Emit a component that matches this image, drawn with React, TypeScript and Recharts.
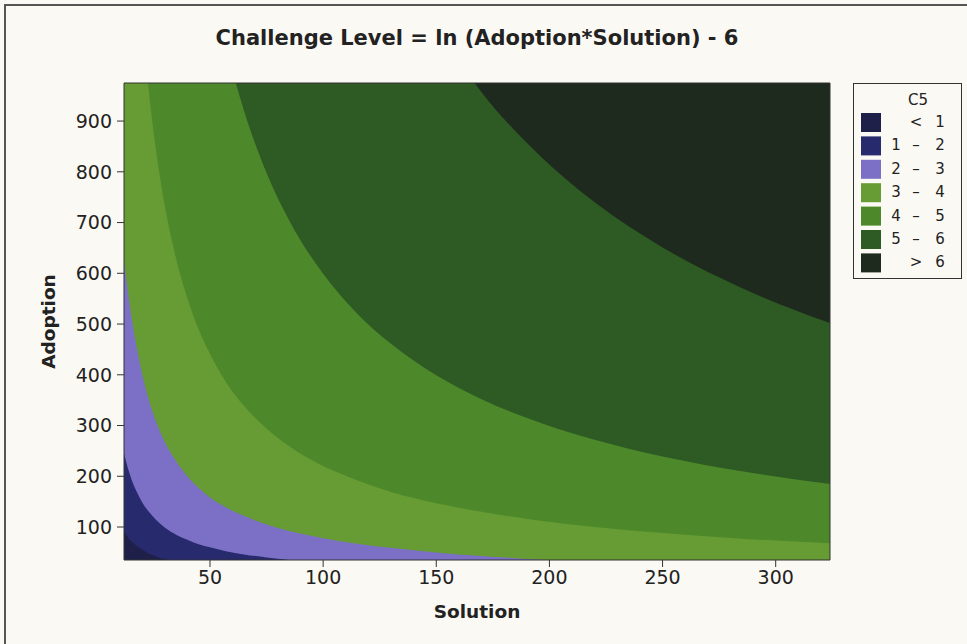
import { Area, CartesianGrid, ComposedChart, Legend, XAxis, YAxis } from "recharts";

// Solution grid along which the contour boundaries were read
const SOLUTION = [12, 14, 16, 18, 20, 23, 26, 30, 35, 40, 45, 50, 57, 65, 75, 85, 100, 115, 130, 150, 170, 195, 220, 250, 285, 324];

// Adoption value of each contour boundary at the Solution grid above
const LEVEL_1 = [91, 78, 69, 61, 55, 48, 42, 37, 31, 27, 24, 22, 19, 17, 15, 13, 11, 10, 8, 7, 6, 6, 5, 4, 4, 3];
const LEVEL_2 = [245, 212, 186, 166, 149, 130, 115, 99, 85, 75, 66, 60, 52, 46, 40, 35, 30, 26, 23, 20, 18, 15, 14, 12, 10, 9];
const LEVEL_3 = [625, 555, 495, 445, 402, 350, 310, 268, 230, 200, 177, 158, 139, 122, 105, 92, 78, 67, 59, 50, 43, 36, 31, 27, 24, 22];
const LEVEL_4 = [1835, 1573, 1377, 1224, 1101, 958, 847, 734, 629, 551, 489, 441, 386, 339, 294, 259, 220, 192, 169, 147, 130, 113, 100, 88, 77, 68];
const LEVEL_5 = [4990, 4277, 3742, 3326, 2994, 2603, 2303, 1996, 1711, 1497, 1331, 1197, 1050, 921, 798, 704, 599, 521, 461, 399, 352, 307, 272, 239, 210, 185];
const LEVEL_6 = [13563, 11625, 10172, 9042, 8138, 7076, 6260, 5425, 4650, 4069, 3617, 3255, 2855, 2504, 2170, 1915, 1628, 1415, 1252, 1085, 957, 835, 740, 651, 571, 502];

const BOUNDARIES = [LEVEL_1, LEVEL_2, LEVEL_3, LEVEL_4, LEVEL_5, LEVEL_6];

// Legend bands, lowest first
const BAND_LOW = ["", "1", "2", "3", "4", "5", ""];
const BAND_SIGN = ["<", "\u2013", "\u2013", "\u2013", "\u2013", "\u2013", ">"];
const BAND_HIGH = ["1", "2", "3", "4", "5", "6", "6"];
const BAND_COLORS = ["#1f2049", "#272a6c", "#7b70c6", "#679c34", "#4d892a", "#2e5a24", "#1e2a1d"];

const X_TICKS = [50, 100, 150, 200, 250, 300];
const Y_TICKS = [100, 200, 300, 400, 500, 600, 700, 800, 900];

const rows = SOLUTION.map((solution, i) => {
  const row: Record<string, number> = { solution };
  BOUNDARIES.forEach((level, k) => {
    row[`b${k + 1}`] = level[i];
  });
  return row;
});

const FONT = '"DejaVu Sans", Verdana, sans-serif';
const INK = "#222";
const AXIS = "#333";
const PAPER = "#fbf9f4";

function ContourLegend() {
  const rowTop = 39;
  const rowStep = 23.4;
  return (
    <svg width={110} height={197} style={{ display: "block" }}>
      <rect x={0.5} y={0.5} width={108} height={195} fill="none" stroke={AXIS} strokeWidth={1} />
      <text x={65} y={22} textAnchor="middle" fontFamily={FONT} fontSize={15} fill={INK}>
        C5
      </text>
      {BAND_COLORS.map((color, i) => {
        const cy = rowTop + i * rowStep;
        return (
          <g key={i}>
            <rect x={8} y={cy - 9} width={20} height={19} fill={color} />
            <text x={43} y={cy + 5} textAnchor="middle" fontFamily={FONT} fontSize={15} fill={INK}>
              {BAND_LOW[i]}
            </text>
            <text x={63} y={cy + 5} textAnchor="middle" fontFamily={FONT} fontSize={15} fill={INK}>
              {BAND_SIGN[i]}
            </text>
            <text x={87} y={cy + 5} textAnchor="middle" fontFamily={FONT} fontSize={15} fill={INK}>
              {BAND_HIGH[i]}
            </text>
          </g>
        );
      })}
    </svg>
  );
}

export default function App() {
  return (
    <div
      style={{
        position: "absolute",
        left: 0,
        top: 0,
        width: 967,
        height: 644,
        background: PAPER,
        overflow: "hidden",
      }}
    >
      <div
        style={{
          position: "absolute",
          left: 4,
          top: 4,
          width: 980,
          height: 660,
          borderTop: "2px solid #555",
          borderLeft: "2px solid #555",
        }}
      />
      <div
        style={{
          position: "absolute",
          left: 0,
          top: 28,
          width: 954,
          textAlign: "center",
          fontFamily: FONT,
          fontWeight: "bold",
          fontSize: 21,
          lineHeight: "21px",
          color: INK,
        }}
      >
        Challenge Level = ln (Adoption*Solution) - 6
      </div>
      <ComposedChart
        width={967}
        height={644}
        data={rows}
        margin={{ top: 82, right: 136, bottom: 24, left: 0 }}
        style={{ position: "absolute", left: 0, top: 0 }}
      >
        <CartesianGrid fill={BAND_COLORS[0]} fillOpacity={1} horizontal={false} vertical={false} />
        {BOUNDARIES.map((_, k) => (
          <Area
            key={k}
            dataKey={`b${k + 1}`}
            type="monotone"
            baseValue="dataMax"
            fill={BAND_COLORS[k + 1]}
            fillOpacity={1}
            stroke="none"
            dot={false}
            activeDot={false}
            isAnimationActive={false}
          />
        ))}
        <XAxis
          dataKey="solution"
          type="number"
          domain={[12, 324]}
          allowDataOverflow
          ticks={X_TICKS}
          height={60}
          tickSize={7}
          tickMargin={4}
          stroke={AXIS}
          tick={{ fill: INK, fontSize: 19, fontFamily: FONT }}
          label={{
            value: "Solution",
            position: "insideBottom",
            offset: 2,
            style: { fill: INK, fontSize: 18.5, fontWeight: "bold", fontFamily: FONT },
          }}
        />
        <XAxis xAxisId="top" orientation="top" type="number" domain={[0, 1]} height={1} tick={false} tickLine={false} stroke={AXIS} />
        <YAxis
          type="number"
          domain={[35, 975]}
          allowDataOverflow
          ticks={Y_TICKS}
          width={124}
          tickSize={7}
          tickMargin={5}
          stroke={AXIS}
          tick={{ fill: INK, fontSize: 19, fontFamily: FONT }}
          label={{
            value: "Adoption",
            angle: -90,
            position: "center",
            dx: -14,
            style: { fill: INK, fontSize: 18.5, fontWeight: "bold", fontFamily: FONT },
          }}
        />
        <YAxis yAxisId="right" orientation="right" type="number" domain={[0, 1]} width={1} tick={false} tickLine={false} stroke={AXIS} />
        <Legend
          layout="vertical"
          align="center"
          verticalAlign="middle"
          content={() => <ContourLegend />}
          wrapperStyle={{ position: "absolute", left: 853, top: 83, width: 110, height: 197 }}
        />
      </ComposedChart>
    </div>
  );
}
